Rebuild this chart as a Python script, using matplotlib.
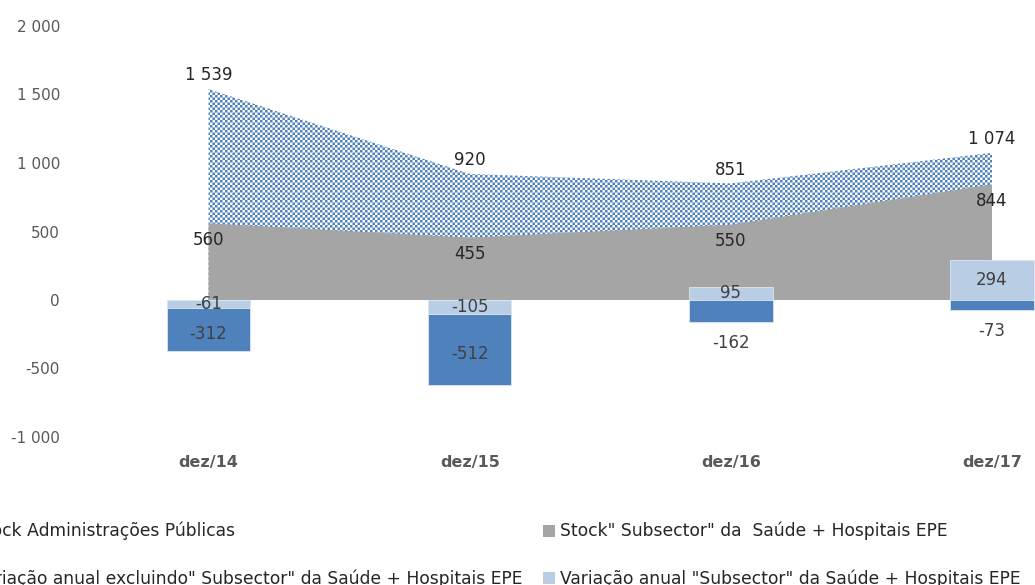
import numpy as np
import matplotlib
matplotlib.use("Agg")
import matplotlib.pyplot as plt
from matplotlib.colors import to_rgba
from matplotlib.patches import Patch
from matplotlib.ticker import FuncFormatter, FixedLocator

# ---- data ----
categories = ["dez/14", "dez/15", "dez/16", "dez/17"]
stock_ap = [1539, 920, 851, 1074]          # Stock Administrações Públicas
stock_saude = [560, 455, 550, 844]         # Stock Subsector da Saúde + Hospitais EPE
var_excl = [-312, -512, -162, -73]         # Variação anual excluindo Subsector
var_saude = [-61, -105, 95, 294]           # Variação anual Subsector
y_ticks = [-1000, -500, 0, 500, 1000, 1500, 2000]

labels_legend = [
    'Stock Administrações Públicas',
    'Variação anual excluindo" Subsector" da Saúde + Hospitais EPE',
    'Stock" Subsector" da  Saúde + Hospitais EPE',
    'Variação anual "Subsector" da Saúde + Hospitais EPE',
]

C_DARK = "#4F81BD"
C_LIGHT = "#B9CDE5"
C_GRAY = "#A5A5A5"
C_TXT = "#595959"

plt.rcParams['font.family'] = ['DejaVu Sans']

W, H = 1035, 585
fig = plt.figure(figsize=(W / 100, H / 100), dpi=100)
ax_l, ax_r, ax_t, ax_b = 78, 1035, 26, 437
ax = fig.add_axes([ax_l / W, 1 - ax_b / H, (ax_r - ax_l) / W, (ax_b - ax_t) / H])
ax.set_facecolor("none")

x = np.arange(len(categories))
tot = np.array(stock_ap, float)
sau = np.array(stock_saude, float)
dk = np.array(var_excl, float)
lt = np.array(var_saude, float)

ax.set_xlim(-0.5, 3 + (ax_r - 992) / 261.0)
ax.set_ylim(-1000, 2000)

# total area with checker pattern: pixel-exact figure image clipped to the area polygon
ss = 4            # supersampling for soft pattern edges
cell = 2.5 * ss   # checker cell size (sub-pixels)
yy, xx = np.mgrid[0:H * ss, 0:W * ss]
hi = ((np.floor(xx / cell) + np.floor(yy / cell)) % 2).astype(float)
cov = hi.reshape(H, ss, W, ss).mean(axis=(1, 3))
blue = np.array(to_rgba(C_DARK))
rgba = np.ones((H, W, 4))
rgba[..., :3] = 1 - cov[..., None] * (1 - blue[None, None, :3])
coll = ax.fill_between(x, 0, tot, facecolor="none", edgecolor="none", zorder=1)
fim = fig.figimage(rgba, xo=0, yo=0, origin="lower", zorder=-1)
fim.set_clip_path(coll.get_paths()[0], transform=ax.transData)

# gray area
ax.fill_between(x, 0, sau, facecolor=C_GRAY, edgecolor="none", zorder=2)

# stacked bars
bw = 0.32
ax.bar(x, lt, bw, color=C_LIGHT, edgecolor="#DCE6F2", linewidth=0.6, zorder=3)
bottom_dk = np.where(np.sign(lt) == np.sign(dk), lt, 0)
ax.bar(x, dk, bw, bottom=bottom_dk, color=C_DARK, edgecolor="#DCE6F2", linewidth=0.6, zorder=3)

def fmt(v):
    s = f"{abs(int(round(v))):,}".replace(",", " ")
    return ("-" if v < 0 else "") + s

# area labels
for xi, v in zip(x, tot):
    ax.annotate(fmt(v), (xi, v), xytext=(0, 10), textcoords="offset points",
                ha="center", va="center", fontsize=12, color="#262626", zorder=5)
for xi, v in zip(x, sau):
    ax.annotate(fmt(v), (xi, v), xytext=(0, -12), textcoords="offset points",
                ha="center", va="center", fontsize=12, color="#262626", zorder=5)

# bar labels
for xi, v in zip(x, lt):
    ax.text(xi, v / 2, fmt(v), ha="center", va="center", fontsize=12, color="#404040", zorder=5)
for xi, v, b in zip(x, dk, bottom_dk):
    if abs(v) > 200:
        ax.annotate(fmt(v), (xi, b + v / 2), xytext=(0, -3), textcoords="offset points",
                    ha="center", va="center", fontsize=12, color="#404040", zorder=5)
    else:
        ax.annotate(fmt(v), (xi, b + v), xytext=(0, -15), textcoords="offset points",
                    ha="center", va="center", fontsize=12, color="#404040", zorder=5)

ax.yaxis.set_major_locator(FixedLocator(y_ticks))
ax.yaxis.set_major_formatter(FuncFormatter(lambda v, p: fmt(v)))
ax.set_xticks(x)
ax.set_xticklabels(categories, fontweight="bold", fontsize=11.5, color=C_TXT)
ax.tick_params(axis="y", length=0, pad=13, labelsize=11, labelcolor=C_TXT)
ax.tick_params(axis="x", length=0, pad=13)
for s in ax.spines.values():
    s.set_visible(False)

# legend
h_ap = Patch(facecolor="white", edgecolor=C_DARK, hatch="++++", linewidth=0)
h_dk = Patch(facecolor=C_DARK, edgecolor="none")
h_gr = Patch(facecolor=C_GRAY, edgecolor="none")
h_lt = Patch(facecolor=C_LIGHT, edgecolor="none")
common = dict(frameon=False, fontsize=12.3, borderpad=0, borderaxespad=0,
              handlelength=0.7, handleheight=0.7, handletextpad=0.3,
              labelspacing=1.7, labelcolor="#262626")
fig.legend([h_ap, h_dk], labels_legend[:2], loc="upper right",
           bbox_to_anchor=(523 / W, 1 - 522 / H), **common)
fig.legend([h_gr, h_lt], labels_legend[2:], loc="upper left",
           bbox_to_anchor=(543 / W, 1 - 522 / H), **common)

fig.savefig("out.png", dpi=100)
